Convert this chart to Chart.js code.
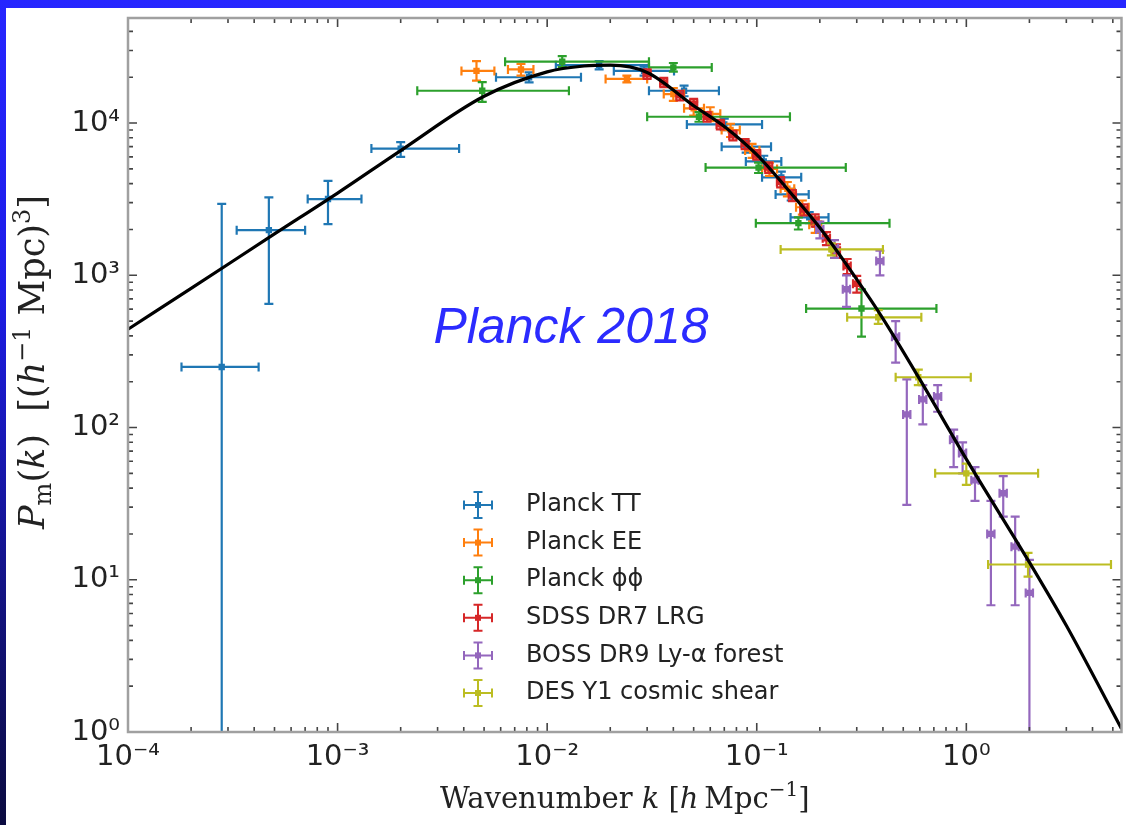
<!DOCTYPE html>
<html>
<head>
<meta charset="utf-8">
<script src="https://cdn.jsdelivr.net/npm/chart.js@4.4.1/dist/chart.umd.min.js"></script>
<style>
  html, body { margin: 0; padding: 0; }
  body {
    width: 1126px; height: 825px; overflow: hidden; position: relative;
    background: linear-gradient(180deg, #2626ff 0%, #1d1de8 35%, #12127a 75%, #0b0b40 100%);
  }
  #panel { position: absolute; left: 6px; top: 8px; width: 1120px; height: 817px; background: #fff; }
  canvas { display: block; }
</style>
</head>
<body>
<div id="panel"><canvas id="pk" width="1120" height="817"></canvas></div>
<script>
// theory curve (black line)
var kTheory = [1e-4, 2e-4, 5e-4, 1e-3, 2e-3, 5e-3, 0.01, 0.015, 0.02, 0.03, 0.05, 0.07, 0.1, 0.15, 0.2, 0.3, 0.4, 0.6, 1, 2, 3, 5.5];
var pTheory = [442, 820, 1870, 3470, 6600, 15000, 21700, 23700, 24000, 21500, 13000, 9500, 6200, 3300, 2050, 940, 520, 207, 62, 13, 5, 1.05];

// Planck TT
var kTT   = [2.8e-4, 4.7e-4, 9.0e-4, 2.0e-3, 8.2e-3, 0.0177, 0.029, 0.045, 0.070, 0.089, 0.108, 0.131, 0.146, 0.178];
var pTT   = [250, 1980, 3170, 6800, 20000, 24000, 22000, 16300, 9800, 7000, 5600, 4400, 3400, 2400];
var kTTlo = [1.8e-4, 3.3e-4, 7.2e-4, 1.45e-3, 5.7e-3, 0.011, 0.0208, 0.0306, 0.0464, 0.068, 0.0887, 0.106, 0.123, 0.145];
var kTThi = [4.2e-4, 7.0e-4, 1.3e-3, 3.8e-3, 0.0145, 0.0306, 0.0403, 0.066, 0.106, 0.117, 0.131, 0.163, 0.177, 0.22];
var pTTlo = [0.3, 650, 2170, 6000, 18500, 22500, 20500, 15000, 9000, 6400, 5100, 4000, 3100, 2200];
var pTThi = [2950, 3250, 4170, 7500, 21500, 25500, 23500, 17600, 10700, 7600, 6100, 4800, 3700, 2600];

// Planck EE
var kEE   = [4.6e-3, 7.5e-3, 0.024, 0.040, 0.050, 0.060, 0.075, 0.095, 0.115, 0.14, 0.165, 0.19];
var pEE   = [22000, 22500, 19500, 15500, 12500, 11500, 9000, 6600, 5000, 3700, 2800, 2150];
var kEElo = [3.9e-3, 6.5e-3, 0.019, 0.036, 0.045, 0.054, 0.068, 0.088, 0.106, 0.13, 0.154, 0.178];
var kEEhi = [5.6e-3, 8.6e-3, 0.030, 0.045, 0.056, 0.067, 0.083, 0.103, 0.125, 0.151, 0.177, 0.203];
var pEElo = [19000, 20500, 18500, 14000, 11200, 10300, 8100, 5900, 4500, 3300, 2500, 1900];
var pEEhi = [25500, 24500, 20500, 17000, 13800, 12700, 9900, 7300, 5500, 4100, 3100, 2400];

// Planck phi-phi
var kPP   = [4.9e-3, 0.0118, 0.040, 0.053, 0.102, 0.158, 0.316];
var pPP   = [16300, 25300, 23200, 11000, 5100, 2200, 605];
var kPPlo = [2.4e-3, 6.3e-3, 0.0306, 0.030, 0.057, 0.099, 0.172];
var kPPhi = [0.0127, 0.0306, 0.061, 0.144, 0.266, 0.43, 0.72];
var pPPlo = [13800, 23300, 21800, 10200, 4700, 2000, 395];
var pPPhi = [18600, 27500, 24800, 11800, 5500, 2400, 810];

// SDSS DR7 LRG
var kLRG   = [0.03, 0.036, 0.043, 0.05, 0.058, 0.067, 0.077, 0.088, 0.1, 0.114, 0.13, 0.148, 0.168, 0.19, 0.215, 0.24, 0.27, 0.3];
var pLRG   = [21000, 18500, 15200, 13400, 11000, 9800, 8300, 7300, 6200, 5100, 4100, 3350, 2700, 2300, 1750, 1450, 1150, 880];
var kLRGlo = [0.0288, 0.0346, 0.0413, 0.048, 0.0557, 0.0643, 0.0739, 0.0845, 0.096, 0.1094, 0.1248, 0.1421, 0.1613, 0.1824, 0.2064, 0.2304, 0.2592, 0.288];
var kLRGhi = [0.0312, 0.0374, 0.0447, 0.052, 0.0603, 0.0697, 0.0801, 0.0915, 0.104, 0.1186, 0.1352, 0.1539, 0.1747, 0.1976, 0.2236, 0.2496, 0.2808, 0.312];
var pLRGlo = [19500, 17200, 14100, 12400, 10200, 9100, 7700, 6750, 5750, 4700, 3780, 3070, 2470, 2090, 1580, 1300, 1020, 770];
var pLRGhi = [22500, 19800, 16300, 14400, 11800, 10500, 8900, 7850, 6650, 5500, 4420, 3630, 2930, 2510, 1920, 1600, 1280, 990];

// BOSS DR9 Ly-alpha forest
var kLya   = [0.2, 0.235, 0.268, 0.387, 0.46, 0.52, 0.62, 0.73, 0.87, 0.96, 1.1, 1.31, 1.5, 1.71, 2.0];
var pLya   = [2000, 1500, 810, 1240, 395, 122, 153, 160, 83, 68, 45, 20, 37, 16.5, 8.2];
var kLyalo = [0.192, 0.2256, 0.2573, 0.3715, 0.4416, 0.4992, 0.5952, 0.7008, 0.8352, 0.9216, 1.056, 1.2576, 1.44, 1.6416, 1.92];
var kLyahi = [0.208, 0.2444, 0.2787, 0.4025, 0.4784, 0.5408, 0.6448, 0.7592, 0.9048, 0.9984, 1.144, 1.3624, 1.56, 1.7784, 2.08];
var pLyalo = [1750, 1300, 620, 1000, 267, 31, 105, 127, 55, 50, 33, 6.8, 26, 6.8, 0.3];
var pLyahi = [2250, 1700, 1000, 1450, 500, 207, 190, 190, 97, 80, 55, 33, 48, 26, 13.5];

// DES Y1 cosmic shear
var kDES   = [0.227, 0.38, 0.59, 1.0, 1.97];
var pDES   = [1480, 530, 214, 50, 12.6];
var kDESlo = [0.13, 0.27, 0.46, 0.71, 1.27];
var kDEShi = [0.40, 0.61, 1.05, 2.2, 4.9];
var pDESlo = [1350, 480, 190, 42, 10.5];
var pDEShi = [1620, 590, 240, 58, 15];

// axes
var xTickValues = [1e-4, 1e-3, 1e-2, 1e-1, 1];
var xTickLabels = ['10\u207B\u2074', '10\u207B\u00B3', '10\u207B\u00B2', '10\u207B\u00B9', '10\u2070'];
var yTickValues = [1, 10, 100, 1000, 10000];
var yTickLabels = ['10\u2070', '10\u00B9', '10\u00B2', '10\u00B3', '10\u2074'];
var xDecades = [-4, -3, -2, -1, 0];
var yDecades = [0, 1, 2, 3, 4];

function pts(k, p, klo, khi, plo, phi) {
    return k.map(function(v, i){
        return { x: v, y: p[i], xMin: klo[i], xMax: khi[i], yMin: plo[i], yMax: phi[i] };
    });
}

function series(label, color, data, order) {
    return {
        label: label, data: data, errors: true, order: order,
        borderColor: color, backgroundColor: color,
        pointStyle: 'rect', pointRadius: 4.5, pointBorderWidth: 0, showLine: false
    };
}

var datasets = [
    { label: 'theory', data: kTheory.map(function(k, i){ return { x: k, y: pTheory[i] }; }),
      showLine: true, borderColor: '#000', borderWidth: 3.2, pointRadius: 0, fill: false,
      cubicInterpolationMode: 'monotone', order: 0 },
    series('Planck TT', '#1f77b4', pts(kTT, pTT, kTTlo, kTThi, pTTlo, pTThi), 6),
    series('Planck EE', '#ff7f0e', pts(kEE, pEE, kEElo, kEEhi, pEElo, pEEhi), 5),
    series('Planck \u03D5\u03D5', '#2ca02c', pts(kPP, pPP, kPPlo, kPPhi, pPPlo, pPPhi), 4),
    series('SDSS DR7 LRG', '#d62728', pts(kLRG, pLRG, kLRGlo, kLRGhi, pLRGlo, pLRGhi), 3),
    series('BOSS DR9 Ly-\u03B1 forest', '#9467bd', pts(kLya, pLya, kLyalo, kLyahi, pLyalo, pLyahi), 2),
    series('DES Y1 cosmic shear', '#bcbd22', pts(kDES, pDES, kDESlo, kDEShi, pDESlo, pDEShi), 1)
];

var CAP = 4.5;

// error bars drawn just under each dataset's markers
var errorBars = {
    id: 'errorBars',
    beforeDatasetDraw: function(chart, args) {
        var ds = chart.data.datasets[args.index];
        if (!ds.errors) return;
        var xs = chart.scales.x, ys = chart.scales.y, a = chart.chartArea, ctx = chart.ctx;
        ctx.save();
        ctx.beginPath();
        ctx.rect(a.left, a.top, a.right - a.left, a.bottom - a.top);
        ctx.clip();
        ctx.strokeStyle = ds.borderColor;
        ctx.lineWidth = 2.2;
        ds.data.forEach(function(d){
            var px = xs.getPixelForValue(d.x), py = ys.getPixelForValue(d.y);
            var x0 = xs.getPixelForValue(d.xMin), x1 = xs.getPixelForValue(d.xMax);
            var y0 = ys.getPixelForValue(d.yMin), y1 = ys.getPixelForValue(d.yMax);
            ctx.beginPath();
            ctx.moveTo(x0, py); ctx.lineTo(x1, py);
            ctx.moveTo(x0, py - CAP); ctx.lineTo(x0, py + CAP);
            ctx.moveTo(x1, py - CAP); ctx.lineTo(x1, py + CAP);
            ctx.moveTo(px, y0); ctx.lineTo(px, y1);
            ctx.moveTo(px - CAP, y0); ctx.lineTo(px + CAP, y0);
            ctx.moveTo(px - CAP, y1); ctx.lineTo(px + CAP, y1);
            ctx.stroke();
        });
        ctx.restore();
    }
};

// spines, inward ticks, titles, legend, label
function drawRich(ctx, parts, x, y) {
    var total = 0;
    parts.forEach(function(p){ ctx.font = p.f; p.w = ctx.measureText(p.t).width; total += p.w; });
    var cx = x - total / 2;
    parts.forEach(function(p){
        ctx.font = p.f;
        ctx.fillText(p.t, cx, y + (p.dy || 0));
        cx += p.w;
    });
}

var frame = {
    id: 'frame',
    afterDatasetsDraw: function(chart) {
        var ctx = chart.ctx, a = chart.chartArea, xs = chart.scales.x, ys = chart.scales.y;
        ctx.save();
        // ticks
        ctx.strokeStyle = '#444';
        ctx.lineWidth = 1.6;
        ctx.beginPath();
        xDecades.forEach(function(e){
            for (var m = 1; m <= 9; m++) {
                var v = m * Math.pow(10, e);
                if (v > xs.max) break;
                var px = xs.getPixelForValue(v), len = (m === 1) ? 9 : 5;
                ctx.moveTo(px, a.bottom); ctx.lineTo(px, a.bottom - len);
                ctx.moveTo(px, a.top); ctx.lineTo(px, a.top + len);
            }
        });
        yDecades.forEach(function(e){
            for (var m = 1; m <= 9; m++) {
                var v = m * Math.pow(10, e);
                if (v > ys.max) break;
                var py = ys.getPixelForValue(v), len = (m === 1) ? 9 : 5;
                ctx.moveTo(a.left, py); ctx.lineTo(a.left + len, py);
                ctx.moveTo(a.right, py); ctx.lineTo(a.right - len, py);
            }
        });
        ctx.stroke();
        // spines
        ctx.strokeStyle = '#a0a0a0';
        ctx.lineWidth = 2.5;
        ctx.strokeRect(a.left, a.top, a.right - a.left, a.bottom - a.top);

        // axis titles
        ctx.fillStyle = '#222';
        ctx.textBaseline = 'alphabetic';
        var rm = '29px "DejaVu Serif"', it = 'italic 29px "DejaVu Serif"', sm = '20px "DejaVu Serif"';
        drawRich(ctx, [
            { t: 'Wavenumber ', f: rm }, { t: 'k', f: it }, { t: ' [', f: rm }, { t: 'h', f: it },
            { t: '\u2009Mpc', f: rm }, { t: '\u22121', f: sm, dy: -12 }, { t: ']', f: rm }
        ], (a.left + a.right) / 2, 800);

        ctx.save();
        ctx.translate(38, 354);
        ctx.rotate(-Math.PI / 2);
        var rm2 = '35px "DejaVu Serif"', it2 = 'italic 35px "DejaVu Serif"', sm2 = '24px "DejaVu Serif"';
        drawRich(ctx, [
            { t: 'P', f: it2 }, { t: 'm', f: sm2, dy: 7 }, { t: '(', f: rm2 }, { t: 'k', f: it2 },
            { t: ')  [(', f: rm2 }, { t: 'h', f: it2 }, { t: '\u22121', f: sm2, dy: -14 },
            { t: ' Mpc)', f: rm2 }, { t: '3', f: sm2, dy: -14 }, { t: ']', f: rm2 }
        ], 0, 0);
        ctx.restore();

        // legend
        var lx = 472, ly = 497, gap = 37.6;
        chart.data.datasets.forEach(function(ds, i){
            if (!ds.errors) return;
            var cy = ly + (i - 1) * gap;
            ctx.strokeStyle = ds.borderColor;
            ctx.fillStyle = ds.borderColor;
            ctx.lineWidth = 2;
            ctx.beginPath();
            ctx.moveTo(lx - 14, cy); ctx.lineTo(lx + 14, cy);
            ctx.moveTo(lx - 14, cy - CAP); ctx.lineTo(lx - 14, cy + CAP);
            ctx.moveTo(lx + 14, cy - CAP); ctx.lineTo(lx + 14, cy + CAP);
            ctx.moveTo(lx, cy - 13); ctx.lineTo(lx, cy + 13);
            ctx.moveTo(lx - CAP, cy - 13); ctx.lineTo(lx + CAP, cy - 13);
            ctx.moveTo(lx - CAP, cy + 13); ctx.lineTo(lx + CAP, cy + 13);
            ctx.stroke();
            ctx.fillRect(lx - 3, cy - 3, 6, 6);
            ctx.fillStyle = '#222';
            ctx.font = '24px "DejaVu Sans"';
            ctx.textBaseline = 'middle';
            ctx.textAlign = 'left';
            ctx.fillText(ds.label, 520, cy);
        });

        // annotation
        ctx.fillStyle = '#2b2bff';
        ctx.font = 'italic 50px "Liberation Sans"';
        ctx.textAlign = 'center';
        ctx.textBaseline = 'alphabetic';
        ctx.fillText('Planck 2018', 565, 335);
        ctx.restore();
    }
};

new Chart(document.getElementById('pk'), {
    type: 'scatter',
    data: { datasets: datasets },
    options: {
        responsive: false,
        animation: false,
        devicePixelRatio: 1,
        layout: { padding: { top: 10, right: 3, left: 0, bottom: 0 } },
        plugins: { legend: { display: false }, tooltip: { enabled: false } },
        scales: {
            x: {
                type: 'logarithmic', min: 1e-4, max: 5.5, bounds: 'data',
                grid: { display: false, drawTicks: false }, border: { display: false },
                afterBuildTicks: function(s){ s.ticks = xTickValues.map(function(v){ return { value: v }; }); },
                afterFit: function(s){ s.height = 93; s.paddingLeft = 0; s.paddingRight = 0; },
                ticks: {
                    autoSkip: false, maxRotation: 0, padding: 8, color: '#222',
                    font: { family: 'DejaVu Sans', size: 29 },
                    callback: function(v, i){ return xTickLabels[i]; }
                }
            },
            y: {
                type: 'logarithmic', min: 1, max: 49000, bounds: 'data',
                grid: { display: false, drawTicks: false }, border: { display: false },
                afterBuildTicks: function(s){ s.ticks = yTickValues.map(function(v){ return { value: v }; }); },
                afterFit: function(s){ s.width = 122; s.paddingTop = 0; s.paddingBottom = 0; },
                ticks: {
                    autoSkip: false, padding: 8, color: '#222',
                    font: { family: 'DejaVu Sans', size: 29 },
                    callback: function(v, i){ return yTickLabels[i]; }
                }
            }
        }
    },
    plugins: [errorBars, frame]
});
</script>
</body>
</html>
